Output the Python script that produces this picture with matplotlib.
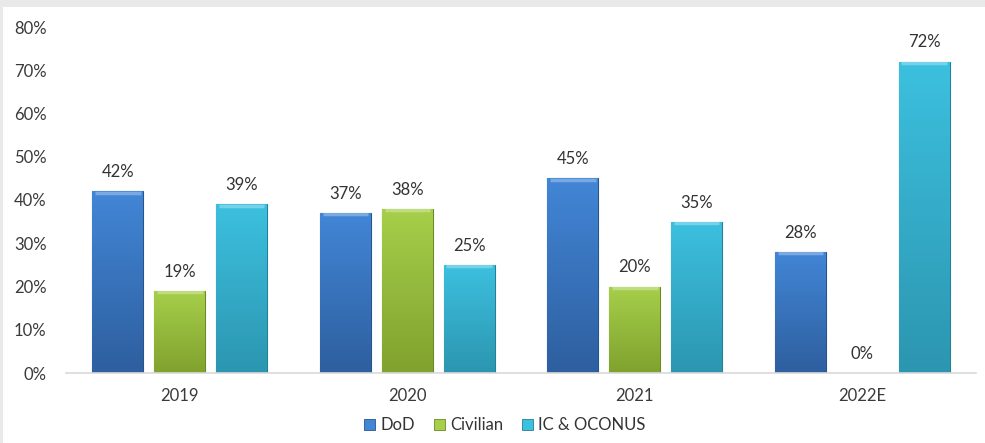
import matplotlib
matplotlib.use("Agg")
import matplotlib.pyplot as plt
from matplotlib.colors import LinearSegmentedColormap
from matplotlib.patches import Patch
import numpy as np

plt.rcParams['font.family'] = ['Lato', 'DejaVu Sans']

# data
years = ['2019', '2020', '2021', '2022E']
series = ['DoD', 'Civilian', 'IC & OCONUS']
dod = [42, 37, 45, 28]
civilian = [19, 38, 20, 0]
ic_oconus = [39, 25, 35, 72]

# top / bottom / edge colours per series
colors = [('#4286d6', '#2e5f9f', '#28548c'),
          ('#a6cf4a', '#80a22e', '#6b8a25'),
          ('#3cc0df', '#2c96b0', '#257f95')]

fig = plt.figure(figsize=(9.85, 4.43), dpi=100)
fig.patch.set_facecolor('#e9e9e9')
# white panel inside the light grey frame
bg = fig.add_axes([3 / 985, 0, 1, 1 - 7 / 443])
bg.set_facecolor('white')
bg.set_xticks([])
bg.set_yticks([])
for s in bg.spines.values():
    s.set_visible(False)

ax = fig.add_axes([66 / 985, 70 / 443, 910 / 985, 346 / 443])
ax.set_facecolor('none')

x = np.arange(len(years))
width = 0.224
step = 0.272

for i, vals in enumerate([dod, civilian, ic_oconus]):
    top, bottom, edge = colors[i]
    cmap = LinearSegmentedColormap.from_list('g%d' % i, [bottom, top])
    bars = ax.bar(x + (i - 1) * step, vals, width, color=top,
                  edgecolor=edge, linewidth=0.8, zorder=2)
    for b, v in zip(bars, vals):
        if v > 0:
            grad = np.linspace(0, 1, 100).reshape(-1, 1)
            im = ax.imshow(grad, cmap=cmap, origin='lower', aspect='auto',
                           extent=[b.get_x(), b.get_x() + b.get_width(), 0, v],
                           zorder=2.5)
            im.set_clip_path(b)
            ax.hlines(v - 0.35, b.get_x() + 0.012, b.get_x() + b.get_width() - 0.012,
                      color='white', alpha=0.3, linewidth=2.5, zorder=3)
        ax.annotate('%d%%' % v, (b.get_x() + b.get_width() / 2, v),
                    xytext=(0, 8), textcoords='offset points',
                    ha='center', va='bottom', fontsize=12, color='#333333')

ax.set_xlim(-0.5, 3.5)
ax.set_ylim(0, 80)
ax.set_xticks(x)
ax.set_xticklabels(years)
ax.set_yticks(np.arange(0, 81, 10))
ax.set_yticklabels(['%d%%' % t for t in range(0, 81, 10)])
ax.tick_params(axis='both', length=0, labelsize=12, labelcolor='#3a3a3a')
ax.tick_params(axis='x', pad=11)
ax.tick_params(axis='y', pad=14)
for s in ['top', 'right', 'left']:
    ax.spines[s].set_visible(False)
ax.spines['bottom'].set_color('#d9d9d9')
ax.spines['bottom'].set_linewidth(1.2)

handles = [Patch(facecolor=c[0], edgecolor=c[2], linewidth=0.6) for c in colors]
fig.legend(handles, series, loc='center', bbox_to_anchor=(505 / 985, 18 / 443),
           ncol=3, frameon=False, fontsize=12, handlelength=0.65, handleheight=0.65,
           handletextpad=0.35, columnspacing=1.1, labelcolor='#333333')

fig.savefig('out.png', dpi=100)
